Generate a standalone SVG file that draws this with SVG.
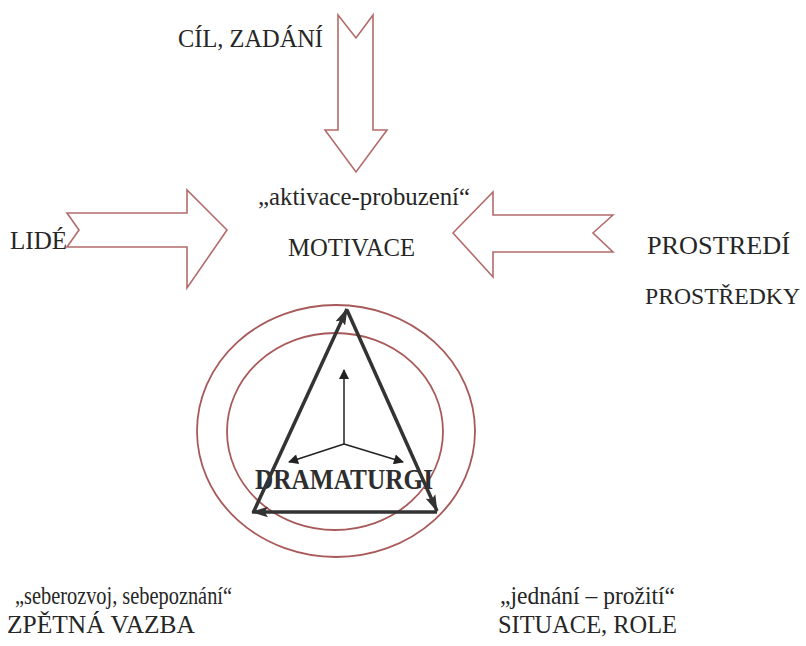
<svg xmlns="http://www.w3.org/2000/svg" width="806" height="646" viewBox="0 0 806 646">
<defs>
<style>
.t{fill:#262626}
.bt{fill:#2e2e2e;font-weight:bold}
.blk{fill:none;stroke:#b36b6b;stroke-width:1.6;stroke-linejoin:miter}
.ring{fill:none;stroke:#a85a5a;stroke-width:1.8}
.tri{fill:none;stroke:#333;stroke-width:3.5}
.ax{fill:none;stroke:#222;stroke-width:1.5}
</style>
<marker id="ah" viewBox="0 0 16 10" refX="15" refY="5" markerWidth="17" markerHeight="11" orient="auto" markerUnits="userSpaceOnUse">
<path d="M0,0 L16,5 L0,10 L3,5 Z" fill="#333"/>
</marker>
<marker id="ah3" viewBox="0 0 10 10" refX="9" refY="5" markerWidth="12" markerHeight="10" orient="auto" markerUnits="userSpaceOnUse">
<path d="M0,0 L10,5 L0,10 Z" fill="#222"/>
</marker>
</defs>
<rect width="806" height="646" fill="#fff"/>

<g font-family="'Liberation Serif', 'Times New Roman', serif" font-size="26">
<g id="cil">
<text class="t" x="178" y="47" textLength="145" lengthAdjust="spacingAndGlyphs">CÍL, ZADÁNÍ</text>
</g>
<g id="lide">
<text class="t" x="10" y="249" textLength="57" lengthAdjust="spacingAndGlyphs">LIDÉ</text>
</g>
<g id="motivace">
<text class="t" x="258" y="205" textLength="212" lengthAdjust="spacingAndGlyphs">„aktivace-probuzení“</text>
<text class="t" x="288" y="256" textLength="127" lengthAdjust="spacingAndGlyphs">MOTIVACE</text>
</g>
<g id="prostredi">
<text class="t" x="647" y="254" textLength="143" lengthAdjust="spacingAndGlyphs">PROSTREDÍ</text>
<text class="t" font-size="24" x="645" y="304" textLength="155" lengthAdjust="spacingAndGlyphs">PROSTŘEDKY</text>
</g>
<g id="zpetna">
<text class="t" x="15" y="604" textLength="217" lengthAdjust="spacingAndGlyphs">„seberozvoj, sebepoznání“</text>
<text class="t" x="7" y="633" textLength="188" lengthAdjust="spacingAndGlyphs">ZPĚTNÁ VAZBA</text>
</g>
<g id="situace">
<text class="t" x="500" y="604" textLength="175" lengthAdjust="spacingAndGlyphs">„jednání – prožití“</text>
<text class="t" x="498" y="633" textLength="179" lengthAdjust="spacingAndGlyphs">SITUACE, ROLE</text>
</g>

<g id="dramaturgie">
<ellipse class="ring" cx="336" cy="431" rx="139" ry="126"/>
<ellipse class="ring" cx="335" cy="431.5" rx="108" ry="98.5"/>
<text class="bt" font-size="30" x="255" y="489" textLength="178" lengthAdjust="spacingAndGlyphs">DRAMATURGI</text>
</g>
</g>

<g id="connectors">
<polygon class="blk" points="338,15 356,38 373,15 373,130 387,130 356,172 325,130 338,130"/>
<polygon class="blk" points="67,213 79,230 67,247 187,247 187,288 227,230 187,190 187,213"/>
<polygon class="blk" points="613,215 593,233 613,252 493,252 493,277 453,233 493,192 493,215"/>
<g class="tri">
<line x1="347" y1="310" x2="437" y2="511" marker-end="url(#ah)"/>
<line x1="437" y1="512" x2="252" y2="512" marker-end="url(#ah)"/>
<line x1="254" y1="511" x2="347" y2="309" marker-end="url(#ah)"/>
</g>
<line class="ax" x1="344" y1="444" x2="344" y2="370" marker-end="url(#ah3)"/>
<line class="ax" x1="344" y1="444" x2="289" y2="462" marker-end="url(#ah3)"/>
<line class="ax" x1="344" y1="444" x2="403" y2="462" marker-end="url(#ah3)"/>
</g>
</svg>
